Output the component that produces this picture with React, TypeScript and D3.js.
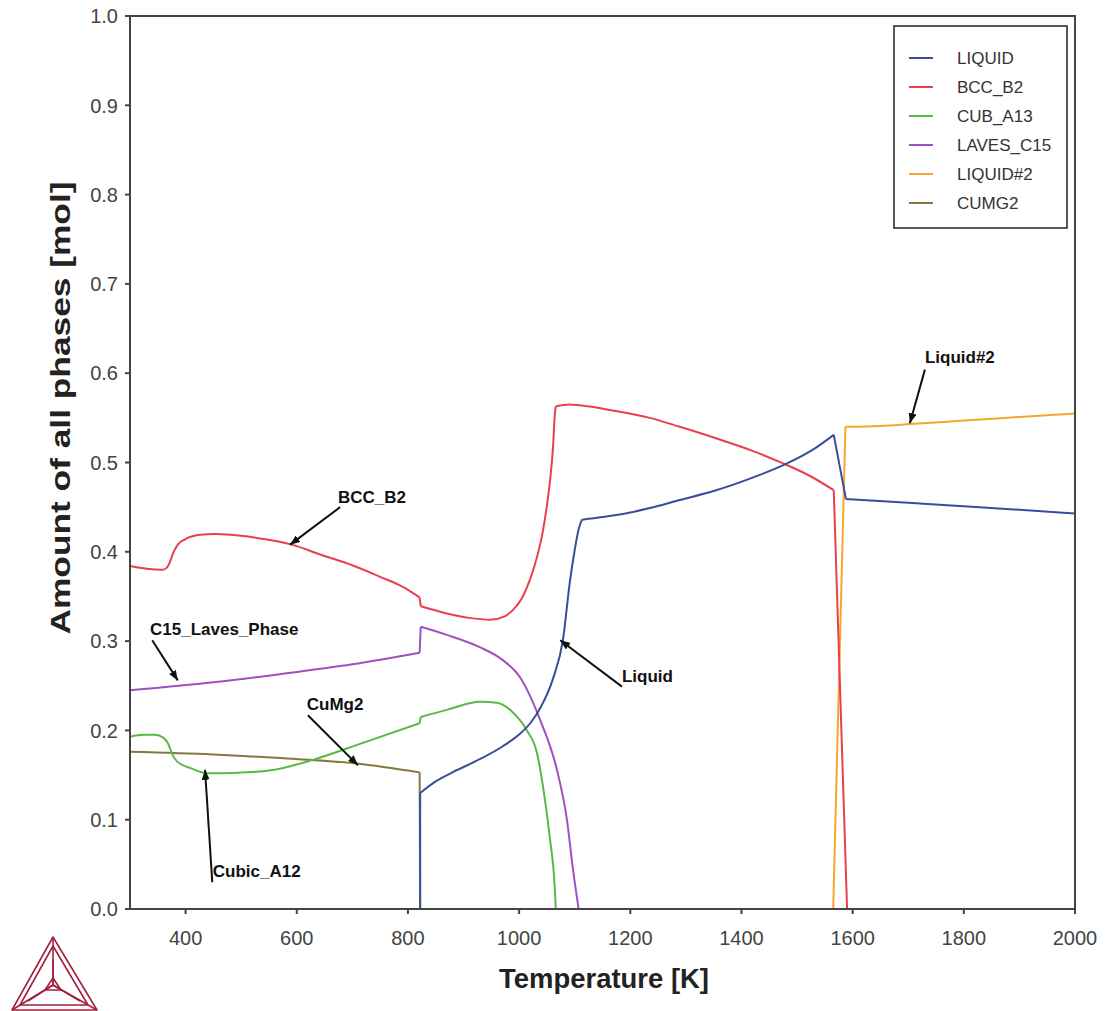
import React from "react";
import * as d3 from "d3";

// Temperature [K] vs amount of phase [mol]
const liquid: [number, number][] = [
  [822, 0], [822, 0.130], [850, 0.143], [880, 0.153], [930, 0.168], [970, 0.182],
  [1001, 0.196], [1020, 0.208], [1038, 0.225], [1061, 0.258], [1079, 0.302],
  [1091, 0.365], [1100, 0.402], [1107, 0.425], [1113, 0.436], [1150, 0.439],
  [1200, 0.444], [1235, 0.449], [1289, 0.458], [1350, 0.468], [1420, 0.483],
  [1482, 0.499], [1530, 0.515], [1566, 0.531], [1588, 0.459], [1700, 0.455],
  [1800, 0.451], [2000, 0.443],
];
const bccB2: [number, number][] = [
  [300, 0.384], [330, 0.381], [359, 0.380], [366, 0.382], [372, 0.389], [378, 0.399],
  [386, 0.408], [399, 0.414], [426, 0.419], [453, 0.420], [500, 0.418], [534, 0.415],
  [591, 0.408], [642, 0.397], [700, 0.385], [750, 0.372], [790, 0.361], [821, 0.349],
  [823, 0.339], [870, 0.331], [910, 0.326], [948, 0.324], [975, 0.328], [989, 0.335],
  [1005, 0.348], [1019, 0.368], [1033, 0.396], [1043, 0.424], [1050, 0.452],
  [1056, 0.482], [1061, 0.517], [1064, 0.552], [1066, 0.563], [1090, 0.565],
  [1109, 0.564], [1170, 0.558], [1235, 0.550], [1289, 0.540], [1350, 0.528],
  [1420, 0.513], [1475, 0.499], [1520, 0.486], [1566, 0.469], [1590, 0],
];
const cubA13: [number, number][] = [
  [300, 0.193], [325, 0.195], [345, 0.195], [360, 0.192], [368, 0.186], [377, 0.172],
  [385, 0.165], [408, 0.158], [439, 0.152], [462, 0.152], [510, 0.153], [560, 0.156],
  [629, 0.167], [719, 0.186], [821, 0.208], [823, 0.215], [870, 0.223], [930, 0.232],
  [960, 0.231], [989, 0.220], [1014, 0.200], [1032, 0.175], [1043, 0.137],
  [1055, 0.081], [1064, 0.025], [1066, 0],
];
const lavesC15: [number, number][] = [
  [300, 0.245], [450, 0.254], [570, 0.263], [700, 0.274], [821, 0.287], [823, 0.316],
  [870, 0.307], [930, 0.293], [970, 0.279], [1001, 0.260], [1037, 0.213],
  [1068, 0.156], [1086, 0.100], [1097, 0.044], [1107, 0],
];
const liquid2: [number, number][] = [
  [1565, 0], [1587, 0.540], [1650, 0.541], [1703, 0.543], [1800, 0.547],
  [1900, 0.551], [2000, 0.555],
];
const cumg2: [number, number][] = [
  [300, 0.176], [450, 0.173], [570, 0.169], [708, 0.163], [821, 0.153], [822, 0],
];

const legendNames = ["LIQUID", "BCC_B2", "CUB_A13", "LAVES_C15", "LIQUID#2", "CUMG2"];
const legendColors = ["#3a4d9c", "#e8404e", "#5ab848", "#a04fc0", "#f7a52e", "#86773e"];

const xTicks = [400, 600, 800, 1000, 1200, 1400, 1600, 1800, 2000];
const yTicks = [0, 0.1, 0.2, 0.3, 0.4, 0.5, 0.6, 0.7, 0.8, 0.9, 1.0];

// label position, arrow tail, arrow tip (data units)
const notes = [
  { text: "BCC_B2", at: [674, 0.455], from: [678, 0.450], to: [588, 0.408] },
  { text: "C15_Laves_Phase", at: [336, 0.307], from: [340, 0.301], to: [386, 0.256] },
  { text: "CuMg2", at: [618, 0.223], from: [620, 0.217], to: [710, 0.161] },
  { text: "Cubic_A12", at: [449, 0.036], from: [448, 0.030], to: [435, 0.156] },
  { text: "Liquid", at: [1185, 0.254], from: [1185, 0.249], to: [1074, 0.301] },
  { text: "Liquid#2", at: [1730, 0.611], from: [1730, 0.604], to: [1703, 0.544] },
];

const FONT = "'Liberation Sans', Arial, sans-serif";

export default function App() {
  const x = d3.scaleLinear().domain([300, 2000]).range([130, 1075]);
  const y = d3.scaleLinear().domain([0, 1]).range([909, 16]);

  // split a curve at sharp corners, smooth each run, keep the corners sharp
  const pathFor = (data: [number, number][]) => {
    const pts = data.map((d) => [x(d[0]), y(d[1])] as [number, number]);
    const runs: [number, number][][] = [[pts[0]]];
    for (let i = 1; i < pts.length; i++) {
      const run = runs[runs.length - 1];
      run.push(pts[i]);
      if (i < pts.length - 1) {
        const a = Math.atan2(pts[i][1] - pts[i - 1][1], pts[i][0] - pts[i - 1][0]);
        const b = Math.atan2(pts[i + 1][1] - pts[i][1], pts[i + 1][0] - pts[i][0]);
        let diff = Math.abs(a - b);
        if (diff > Math.PI) diff = 2 * Math.PI - diff;
        if (diff > Math.PI / 4) runs.push([pts[i]]);
      }
    }
    return runs
      .map((r) => {
        const inc = r.every((p, j) => j === 0 || p[0] > r[j - 1][0]);
        const gen = d3.line().curve(inc && r.length > 2 ? d3.curveMonotoneX : d3.curveLinear);
        return gen(r) || "";
      })
      .join("");
  };

  // drawing order so overlaps look like the original
  const layers: [[number, number][], string][] = [
    [cumg2, legendColors[5]],
    [cubA13, legendColors[2]],
    [lavesC15, legendColors[3]],
    [liquid2, legendColors[4]],
    [bccB2, legendColors[1]],
    [liquid, legendColors[0]],
  ];

  const logo = "#a3213f";

  return (
    <svg
      width={1107}
      height={1011}
      style={{ position: "absolute", left: 0, top: 0, background: "#fff" }}
      fontFamily={FONT}
    >
      <defs>
        <marker id="arr" viewBox="0 0 10 8" refX={10} refY={4} markerWidth={10} markerHeight={8}
          markerUnits="userSpaceOnUse" orient="auto">
          <path d="M0,0 L10,4 L0,8 z" fill="#111" />
        </marker>
      </defs>
      <rect width={1107} height={1011} fill="#fff" />

      {layers.map(([d, c], i) => (
        <path key={i} d={pathFor(d)} fill="none" stroke={c} strokeWidth={2} strokeLinejoin="round" />
      ))}

      {/* frame */}
      <rect x={130} y={16} width={945} height={893} fill="none" stroke="#444" strokeWidth={2} />

      {yTicks.map((t) => (
        <g key={"y" + t}>
          <line x1={125} x2={130} y1={y(t)} y2={y(t)} stroke="#444" strokeWidth={2} />
          <text x={118} y={y(t)} dy="0.36em" textAnchor="end" fontSize={20} fill="#444">
            {t.toFixed(1)}
          </text>
        </g>
      ))}
      {xTicks.map((t) => (
        <g key={"x" + t}>
          <line x1={x(t)} x2={x(t)} y1={909} y2={914} stroke="#444" strokeWidth={2} />
          <text x={x(t)} y={945} textAnchor="middle" fontSize={20} fill="#444">
            {t}
          </text>
        </g>
      ))}

      <text x={604} y={988} textAnchor="middle" fontSize={28} fontWeight="bold" fill="#222"
        textLength={210} lengthAdjust="spacingAndGlyphs">
        Temperature [K]
      </text>
      <text transform="translate(70,408) rotate(-90)" textAnchor="middle" fontSize={28}
        fontWeight="bold" fill="#222" textLength={453} lengthAdjust="spacingAndGlyphs">
        Amount of all phases [mol]
      </text>

      {/* annotations */}
      {notes.map((n) => (
        <g key={n.text}>
          <line x1={x(n.from[0])} y1={y(n.from[1])} x2={x(n.to[0])} y2={y(n.to[1])}
            stroke="#111" strokeWidth={2} markerEnd="url(#arr)" />
          <text x={x(n.at[0])} y={y(n.at[1])} fontSize={17} fontWeight="bold" fill="#111">
            {n.text}
          </text>
        </g>
      ))}

      {/* legend */}
      <rect x={894} y={26} width={173} height={202} fill="#fff" stroke="#222" strokeWidth={1.5} />
      {legendNames.map((name, i) => (
        <g key={name} transform={`translate(909,${58 + i * 29})`}>
          <line x1={0} x2={24} y1={0} y2={0} stroke={legendColors[i]} strokeWidth={2} />
          <text x={48} y={0} dy="0.36em" fontSize={17} fill="#333">
            {name}
          </text>
        </g>
      ))}

      {/* Thermo-Calc logo */}
      <g fill="none" stroke={logo} strokeWidth={1.6} strokeLinejoin="round">
        <path d="M53,937 L12,1010 L97,1010 Z" />
        <path d="M53,946 L20,1005 L88,1005 Z" />
        <path d="M53,937 L53,985 M12,1010 L53,985 M97,1010 L53,985" />
        <path d="M53,960 L53,985 M28,1001 L53,985 M80,1001 L53,985" />
        <path d="M53,978 L45,990 L61,990 Z" />
      </g>
    </svg>
  );
}
